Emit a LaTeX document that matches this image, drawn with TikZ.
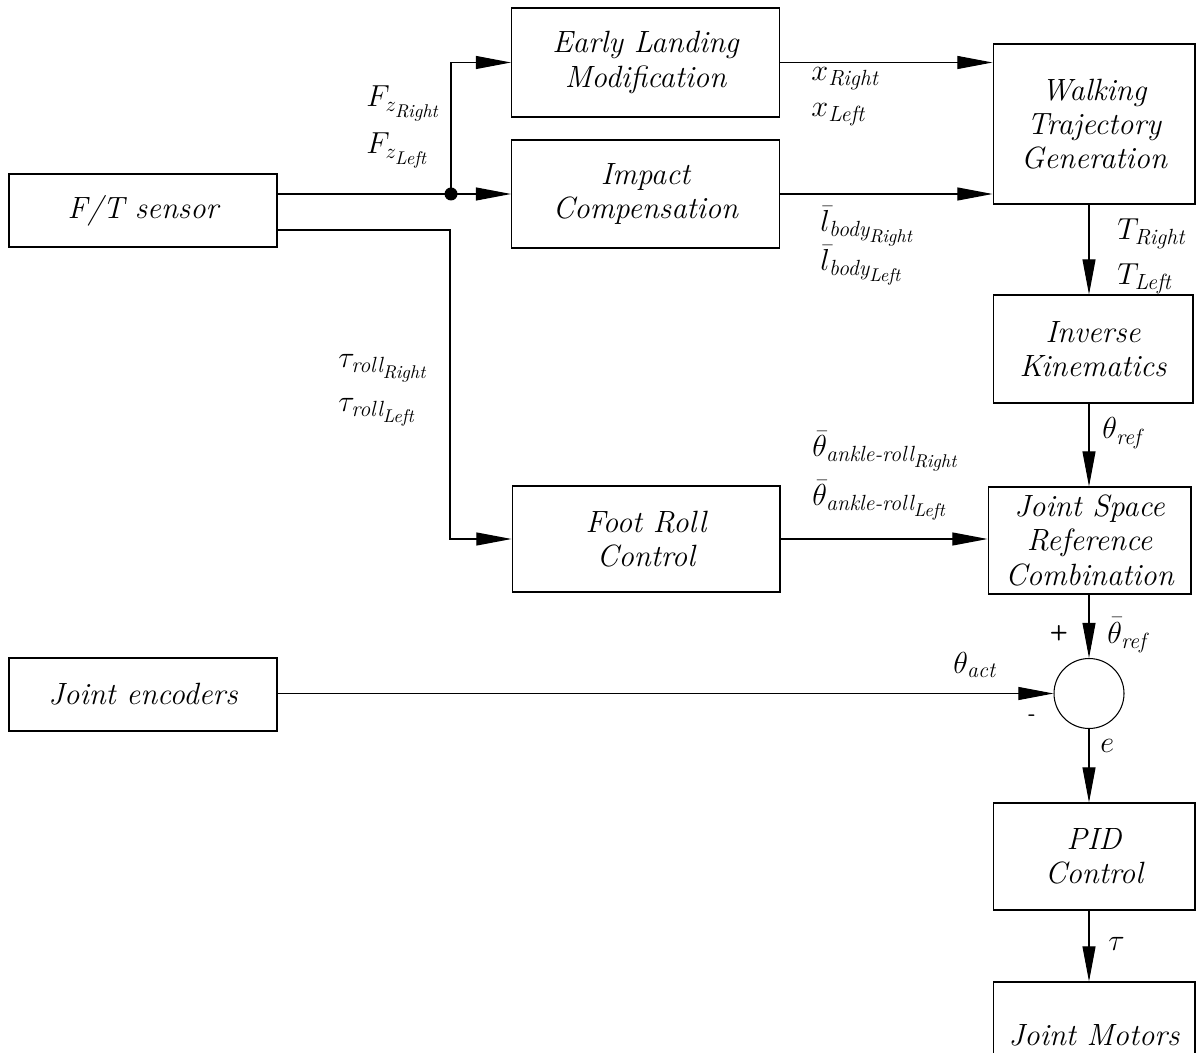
\documentclass[tikz,border=0pt]{standalone}
\usepackage{amsmath}
\usetikzlibrary{arrows.meta}
\DeclareMathSizes{17}{17}{12.5}{10.5}
\newcommand{\tv}[1]{\text{\itshape #1}}
\tikzset{
	block/.style={draw, line width=0.6pt, align=center, inner sep=0pt, font=\itshape\fontsize{17.5}{19.5}\selectfont},
	wide/.style={block, minimum width=5.36cm},
	narrow/.style={block, minimum width=4.04cm},
	sumnode/.style={draw, circle, line width=0.6pt, minimum size=1.4cm, inner sep=0pt},
	dot/.style={circle, fill, inner sep=0pt, minimum size=0.26cm},
	lbl/.style={inner sep=0pt, anchor=base west, font=\fontsize{17}{17}\selectfont},
	sign/.style={inner sep=0pt, font=\sffamily\bfseries\fontsize{12}{12}\selectfont},
	link/.style={line width=0.6pt, -{Triangle[length=20pt,width=7.4pt]}},
	wire/.style={line width=0.6pt}
}
\begin{document}
\begin{tikzpicture}[x=0.02cm,y=-0.02cm]
\useasboundingbox (0,0) rectangle (1196,1053);
\clip (0,0) rectangle (1196,1053);
% blocks
\node[wide, minimum height=1.46cm] (ft) at (143,210.5) {F/T sensor};
\node[wide, minimum height=1.46cm] (enc) at (143,694.5) {Joint encoders};
\node[wide, minimum height=2.18cm] (elm) at (645.5,62.5) {Early Landing\\Modification};
\node[wide, minimum height=2.16cm] (imp) at (645.5,194) {Impact\\Compensation};
\node[wide, minimum height=2.12cm] (foot) at (646,539) {Foot Roll\\Control};
\node[narrow, minimum height=3.2cm] (wtg) at (1094,124) {Walking\\Trajectory\\Generation};
\node[narrow, minimum width=4cm, minimum height=2.16cm] (ik) at (1093,349) {Inverse\\Kinematics};
\node[narrow, minimum width=4.06cm, minimum height=2.14cm] (jsr) at (1089.5,540.5) {Joint Space\\Reference\\Combination};
\node[sumnode] (sum) at (1089,693.5) {};
\node[narrow, minimum height=2.14cm] (pid) at (1094,856.5) {PID\\Control};
\node[narrow, minimum height=2.14cm] (mot) at (1094,1035.5) {Joint Motors};
% branch points
\node[dot] (split) at (451,194) {};
\coordinate (tauturn) at (450,230);
% connectors
\draw[wire] (ft.east |- split) -- (split.center);
\draw[link] (split.center) -- (split -| imp.west);
\draw[link] (split.center) |- (elm.west);
\draw[link] (ft.east |- tauturn) -- (tauturn) |- (foot.west);
\draw[link] (elm.east) -- (elm.east -| wtg.west);
\draw[link] (imp.east) -- (imp.east -| wtg.west);
\draw[link] (wtg.south -| sum) -- (ik.north -| sum);
\draw[link] (ik.south -| sum) -- (jsr.north -| sum);
\draw[link] (foot.east) -- (foot.east -| jsr.west);
\draw[link] (jsr.south -| sum) -- (sum.north);
\draw[link] (enc.east |- sum) -- (sum.west);
\draw[link] (sum.south) -- (pid.north -| sum);
\draw[link] (pid.south -| sum) -- (mot.north -| sum);
% signal labels
\node[lbl] (fzr) at (366,107) {$F_{z_{\tv{Right}}}$};
\node[lbl] (fzl) at (366,154) {$F_{z_{\tv{Left}}}$};
\node[lbl] (xr) at (811,81) {$x_{\tv{Right}}$};
\node[lbl] (xl) at (811,117) {$x_{\tv{Left}}$};
\node[lbl] (lr) at (820,232) {$\bar{l}_{\tv{body}_{\tv{Right}}}$};
\node[lbl] (ll) at (820,271) {$\bar{l}_{\tv{body}_{\tv{Left}}}$};
\node[lbl] (tr) at (1117,240) {$T_{\tv{Right}}$};
\node[lbl] (tl) at (1117,285) {$T_{\tv{Left}}$};
\node[lbl] (taur) at (338,368) {$\tau_{\tv{roll}_{\tv{Right}}}$};
\node[lbl] (taul) at (338,412) {$\tau_{\tv{roll}_{\tv{Left}}}$};
\node[lbl] (thref) at (1102,439) {$\theta_{\tv{ref}}$};
\node[lbl] (thar) at (812,457) {$\bar{\theta}_{\tv{ankle-roll}_{\tv{Right}}}$};
\node[lbl] (thal) at (812,506) {$\bar{\theta}_{\tv{ankle-roll}_{\tv{Left}}}$};
\node[lbl] (thbref) at (1107,643) {$\bar{\theta}_{\tv{ref}}$};
\node[lbl] (thact) at (953,673) {$\theta_{\tv{act}}$};
\node[lbl] (err) at (1100,752) {$e$};
\node[lbl] (tau) at (1108,950) {$\tau$};
\node[sign] (plus) at (1059,633) {+};
\node[sign] (minus) at (1032,718) {-};
\end{tikzpicture}
\end{document}
